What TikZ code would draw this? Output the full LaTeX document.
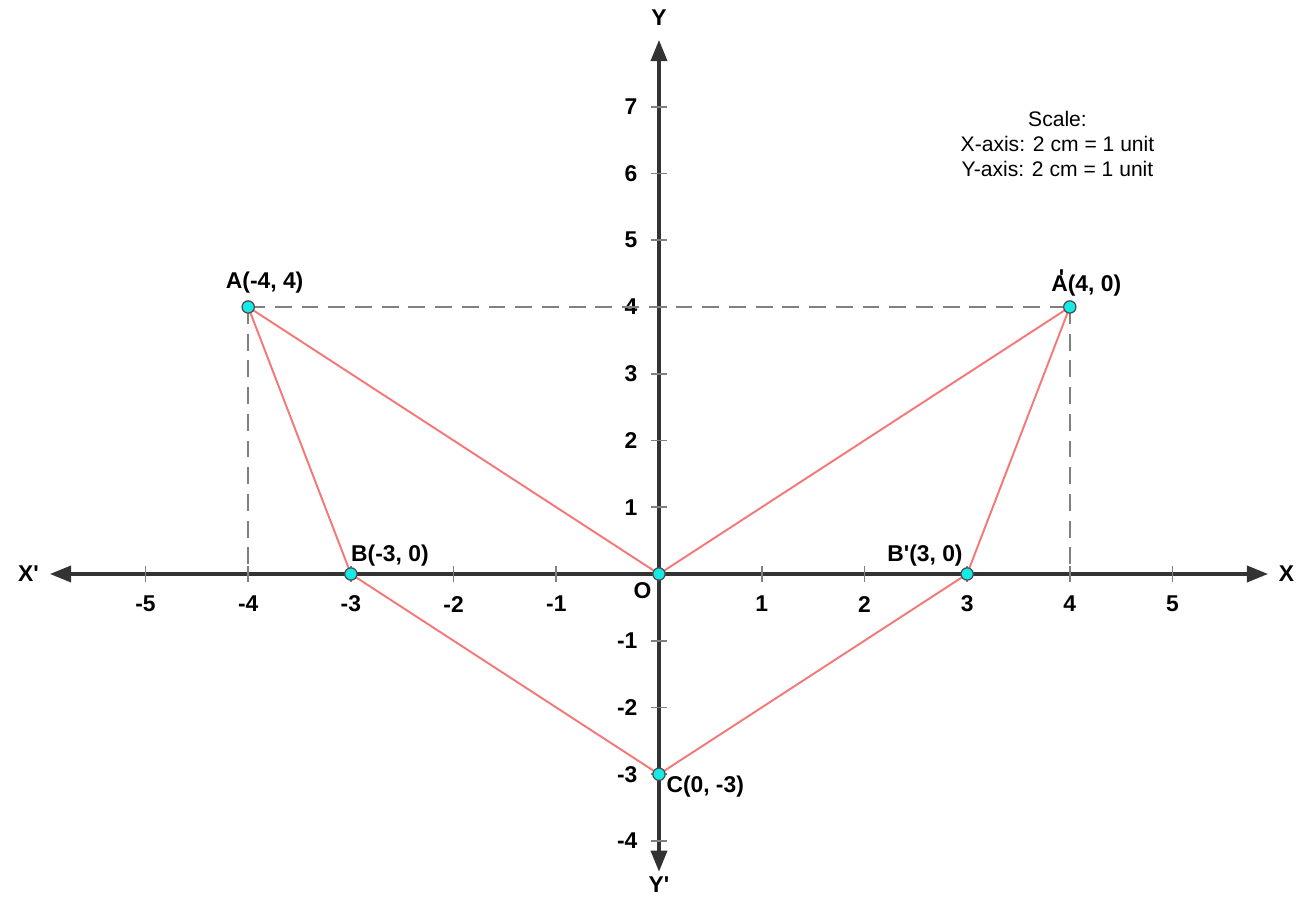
\documentclass[tikz,border=0pt]{standalone}
\usepackage{fontspec}
\setmainfont{Liberation Sans}[Ligatures=TeXOff]
\usetikzlibrary{arrows.meta}

\definecolor{dotcyan}{RGB}{20,235,230}
\definecolor{sidered}{RGB}{245,120,120}

\tikzset{
    axisline/.style={draw=black!80, line width=0.9pt, -{Triangle[length=6pt,width=4.6pt]}},
    tickline/.style={draw=gray, line width=0.5pt},
    ticklbl/.style={font=\fontsize{6.5}{8}\selectfont\bfseries},
    ptlbl/.style={font=\fontsize{6.5}{8}\selectfont\bfseries, inner sep=1pt},
    side/.style={draw=sidered, line width=0.55pt},
    guide/.style={draw=gray, line width=0.6pt, dash pattern=on 4.8pt off 2.8pt},
    pt/.style={circle, fill=dotcyan, draw=black!70, line width=0.35pt, inner sep=0pt, minimum size=3.5pt}
}

\begin{document}
\begin{tikzpicture}[x=1.027cm, y=0.6675cm]
\useasboundingbox (-6.4167,-4.869) rectangle (6.3096,8.599);

% Axes
\coordinate (xl) at (-5.93,0);
\coordinate (xr) at (5.93,0);
\coordinate (yb) at (0,-4.46);
\coordinate (yt) at (0,8.0);
\draw[axisline] (0,0) -- (xl);
\draw[axisline] (0,0) -- (xr);
\draw[axisline] (0,0) -- (yb);
\draw[axisline] (0,0) -- (yt);
\node[ticklbl] (lblxl) at (-6.14,0) {X'};
\node[ticklbl] (lblxr) at (6.11,0) {X};
\node[ticklbl] (lblyt) at (0,8.33) {Y};
\node[ticklbl] (lblyb) at (0,-4.66) {Y'};

% Ticks and numbers
\foreach \x in {-5,-4,-3,-2,-1,1,2,3,4,5}{
    \draw[tickline] (\x,-0.12) -- (\x,0.12);
    \node[ticklbl] at (\x,-0.45) {\x};
}
\foreach \y in {-4,-3,-2,-1,1,2,3,4,5,6,7}{
    \draw[tickline] (-0.08,\y) -- (0.08,\y);
    \node[ticklbl, anchor=east] at (-0.09,\y) {\y};
}
\node[ticklbl] (lblo) at (-0.16,-0.25) {O};

% Points
\coordinate (A) at (-4,4);
\coordinate (Ap) at (4,4);
\coordinate (B) at (-3,0);
\coordinate (Bp) at (3,0);
\coordinate (C) at (0,-3);
\coordinate (O) at (0,0);
\coordinate (Af) at (-4,0);
\coordinate (Apf) at (4,0);

% Dashed guides
\draw[guide] (A) -- (Ap);
\draw[guide] (A) -- (Af);
\draw[guide] (Ap) -- (Apf);

% Triangles
\draw[side] (A) -- (B);
\draw[side] (A) -- (O);
\draw[side] (B) -- (C);
\draw[side] (O) -- (Ap);
\draw[side] (Ap) -- (Bp);
\draw[side] (Bp) -- (C);

% Dots
\foreach \p in {A,Ap,B,Bp,C,O}{
    \node[pt] at (\p) {};
}

% Point labels
\node[ptlbl] (lbla) at (-3.84,4.36) {A(-4, 4)};
\node[ptlbl] (lblap) at (4.16,4.36) {A\makebox[0pt][r]{\raisebox{0.45ex}{'}\kern0.15em}(4, 0)};
\node[ptlbl] (lblb) at (-2.62,0.28) {B(-3, 0)};
\node[ptlbl] (lblbp) at (2.59,0.28) {B'(3, 0)};
\node[ptlbl] (lblc) at (0.45,-3.19) {C(0, -3)};

% Scale note
\node[font=\fontsize{6}{7.2}\selectfont, align=center] (scale) at (3.88,6.44)
    {Scale:\\X-axis: 2 cm = 1 unit\\Y-axis: 2 cm = 1 unit};

\end{tikzpicture}
\end{document}
